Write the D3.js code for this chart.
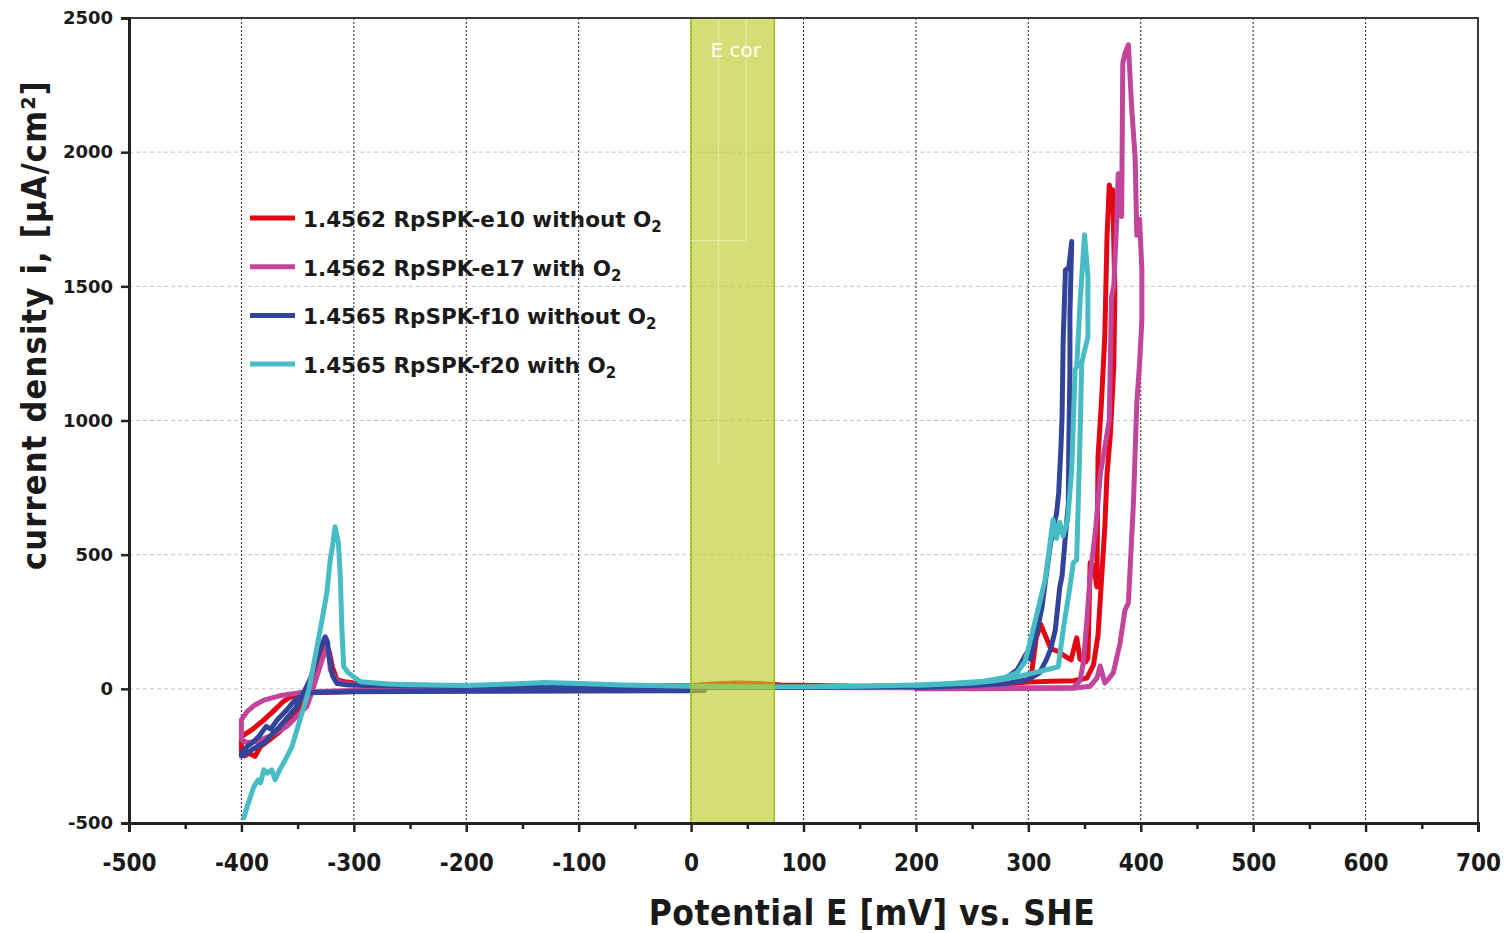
<!DOCTYPE html>
<html>
<head>
<meta charset="utf-8">
<script src="https://cdn.jsdelivr.net/npm/d3@7"></script>
<style>
  body { margin: 0; background: #fff; }
  svg { display: block; }
</style>
</head>
<body>
<svg id="chart" width="1511" height="933"></svg>
<script>
// axis ticks
const xTicks = [-500, -400, -300, -200, -100, 0, 100, 200, 300, 400, 500, 600, 700];
const xMinor = [-450, -350, -250, -150, -50, 50, 150, 250, 350, 450, 550, 650];
const yTicks = [-500, 0, 500, 1000, 1500, 2000, 2500];

// E cor band, mV
const ecorBand = [0, 74];

const seriesNames = ["1.4562 RpSPK-e10 without O", "1.4562 RpSPK-e17 with O",
                     "1.4565 RpSPK-f10 without O", "1.4565 RpSPK-f20 with O"];
const seriesColors = ["#e30613", "#c2449b", "#32449a", "#47bcc4"];

// [E mV, i uA/cm2]
const e10 = [[0,-3],[-100,-5],[-200,-7],[-300,-10],[-345,-15],[-356,-30],[-363,-48],[-372,-85],
  [-380,-116],[-390,-150],[-400,-178],[-400,-235],[-397,-250],[-393,-240],[-388,-252],[-383,-215],
  [-375,-190],[-366,-160],[-356,-115],[-347,-60],[-340,-5],[-334,60],[-329,130],[-325.6,171],
  [-322,140],[-319,80],[-315,34],[-308,26],[-300,22],[-250,14],[-200,10],[-100,10],[-50,10],[0,12],
  [20,18],[40,22],[60,20],[80,14],[150,10],[230,12],[270,18],[295,25],[302,30],[307,190],[311,240],
  [315,200],[320,150],[326,140],[334,118],[338,108],[343,190],[346,110],[351,100],[353,115],
  [355,470],[358,460],[361,380],[362,865],[365,1066],[368,1312],[370,1685],[372,1878],[374,1820],
  [375,1860],[377,1480],[376,1200],[373,950],[370,800],[368,600],[365,400],[362,200],[358,90],
  [352,40],[340,30],[320,28],[300,25],[270,15],[230,10]];

const e17 = [[0,-2],[-100,-3],[-200,-4],[-300,-6],[-342,-11],[-366,-26],[-380,-42],[-388,-60],
  [-395,-85],[-400,-116],[-400,-190],[-395,-200],[-385,-195],[-372,-170],[-360,-141],[-350,-100],
  [-342,-67],[-337,-10],[-333,45],[-328,110],[-325.6,138],[-324,157],[-322,120],[-321,71],
  [-316,35],[-312,22],[-300,16],[-200,8],[-100,6],[0,5],[100,5],[200,4],[300,4],[340,5],[346,30],
  [349,100],[352,250],[355,420],[360,600],[364,800],[368,900],[372,1000],[374,1460],[376,1500],
  [378.6,1740],[380,1920],[383,1760],[384,2330],[386,2370],[389,2400],[392,2160],[395,1980],
  [396.5,1690],[399,1750],[401,1560],[401,1375],[399,1215],[396.5,1066],[393.5,693],[389,320],
  [386,294],[381.6,171],[375.6,60],[372,40],[368,22],[364,85],[361,40],[355,10],[340,2],[250,0],
  [200,0]];

const f10 = [[12,-6],[0,-7],[-100,-8],[-200,-9],[-300,-11],[-342,-15],[-352,-40],[-360,-80],
  [-368,-115],[-374,-150],[-378,-140],[-384,-175],[-390,-200],[-395,-215],[-400,-240],[-400,-250],
  [-395,-240],[-390,-225],[-380,-201],[-366,-141],[-351,-67],[-339,34],[-333,110],[-329,160],
  [-325.5,194],[-323.5,175],[-322,120],[-319,50],[-315,20],[-305,14],[-290,12],[-200,8],[-100,5],
  [0,5],[100,5],[200,10],[250,15],[280,40],[290,70],[298,130],[302,110],[305,170],[308,220],
  [312,300],[315,395],[319,520],[322,600],[325,650],[327,730],[329,900],[330,1014],[331,1300],
  [333,1560],[336,1570],[338.6,1667],[337,1400],[337,1190],[336,900],[335.6,693],[332,520],
  [330,420],[328,380],[324,220],[320,150],[316,108],[310,60],[300,35],[280,20],[250,12],[200,5]];

const f20 = [[-398,-481],[-395,-440],[-389,-365],[-385,-339],[-383,-350],[-380,-302],[-377,-314],
  [-373,-302],[-370,-339],[-366,-302],[-361,-265],[-355,-215],[-348,-116],[-340,-4],[-334.5,119],
  [-329,240],[-324,358],[-321,481],[-319,530],[-316.7,604],[-313.7,544],[-312,417],[-310.7,231],
  [-309,82],[-305,60],[-294,26],[-270,18],[-250,15],[-200,12],[-160,18],[-130,24],[-100,20],
  [-60,14],[0,10],[50,8],[100,8],[150,10],[200,14],[230,20],[260,28],[278,41],[290,60],[297,101],
  [303,200],[310,320],[315,406],[318,500],[322,630],[325,560],[328,620],[331,570],[335,630],
  [338.6,816],[341.6,1189],[343,1200],[346,1438],[350,1692],[353,1536],[353,1312],[347.5,1215],
  [346,940],[343,481],[340,470],[337,380],[331,220],[326.6,82],[316,71],[300,55],[290,45],
  [270,30],[250,22],[200,12]];

const allSeries = [e10, e17, f10, f20];

// faint leftover frame lines inside the E cor band, [E, i] ends
const bandArtifacts = [[[24.5, 2500], [24.5, 840]], [[49, 2500], [49, 1670]], [[0, 1670], [49, 1670]]];

const svg = d3.select("#chart");
const plotLeft = 129, plotRight = 1478, plotTop = 18, plotBottom = 823;

const x = d3.scaleLinear().domain([-500, 700]).range([plotLeft, plotRight]);
const y = d3.scaleLinear().domain([-500, 2500]).range([plotBottom, plotTop]);

// horizontal grid
svg.append("g").selectAll("line")
  .data(yTicks.slice(1, -1))
  .enter().append("line")
  .attr("x1", plotLeft).attr("x2", plotRight)
  .attr("y1", d => y(d)).attr("y2", d => y(d))
  .attr("stroke", "#c4c4c4").attr("stroke-width", 1)
  .attr("stroke-dasharray", "4,3");

// vertical grid
svg.append("g").selectAll("line")
  .data(xTicks.slice(1, -1))
  .enter().append("line")
  .attr("x1", d => x(d)).attr("x2", d => x(d))
  .attr("y1", plotTop).attr("y2", plotBottom)
  .attr("stroke", "#222").attr("stroke-width", 1)
  .attr("stroke-dasharray", "2,2");

// curves
const line = d3.line().x(d => x(d[0])).y(d => y(d[1]));
svg.append("g").selectAll("path")
  .data(allSeries)
  .enter().append("path")
  .attr("d", line)
  .attr("fill", "none")
  .attr("stroke", (d, i) => seriesColors[i])
  .attr("stroke-width", 5)
  .attr("stroke-linejoin", "round")
  .attr("stroke-linecap", "round");

// E cor band over the curves
svg.append("rect")
  .attr("x", x(ecorBand[0])).attr("y", plotTop)
  .attr("width", x(ecorBand[1]) - x(ecorBand[0]))
  .attr("height", plotBottom - plotTop)
  .attr("fill", "#bfcc2a").attr("fill-opacity", 0.65)
  .attr("stroke", "#9cc31c").attr("stroke-width", 1.5);

svg.append("g").selectAll("path")
  .data(bandArtifacts)
  .enter().append("path")
  .attr("d", line)
  .attr("stroke", "#fff").attr("stroke-opacity", 0.45).attr("stroke-width", 1);

svg.append("text")
  .attr("x", (x(ecorBand[0]) + x(ecorBand[1])) / 2 + 3)
  .attr("y", 57)
  .attr("text-anchor", "middle")
  .attr("fill", "#fff")
  .style("font-family", "'DejaVu Sans', Verdana, sans-serif")
  .style("font-size", "20px")
  .text("E cor");

// frame
svg.append("rect")
  .attr("x", plotLeft).attr("y", plotTop)
  .attr("width", plotRight - plotLeft).attr("height", plotBottom - plotTop)
  .attr("fill", "none").attr("stroke", "#3a3a3a").attr("stroke-width", 2);

// axes
const xAxis = svg.append("g")
  .attr("transform", `translate(0,${plotBottom})`)
  .call(d3.axisBottom(x).tickValues(xTicks).tickSize(9).tickFormat(d3.format("d")));
svg.append("g")
  .attr("transform", `translate(0,${plotBottom})`)
  .call(d3.axisBottom(x).tickValues(xMinor).tickSize(6).tickFormat(""))
  .call(g => g.select(".domain").remove())
  .selectAll("line").attr("stroke", "#222").attr("stroke-width", 2.5);
xAxis.select(".domain").attr("stroke", "#222").attr("stroke-width", 3);
xAxis.selectAll(".tick line").attr("stroke", "#222").attr("stroke-width", 2.5);
xAxis.selectAll("text")
  .attr("dy", 0).attr("y", 48)
  .attr("fill", "#1a1a1a")
  .style("font-family", "'DejaVu Sans Condensed', 'DejaVu Sans', sans-serif")
  .style("font-weight", "bold")
  .style("font-size", "24px")
  .text(d => d3.format("d")(d).replace("−", "-"));

const yAxis = svg.append("g")
  .attr("transform", `translate(${plotLeft},0)`)
  .call(d3.axisLeft(y).tickValues(yTicks).tickSize(8).tickFormat(d3.format("d")));
yAxis.select(".domain").attr("stroke", "#222").attr("stroke-width", 3);
yAxis.selectAll(".tick line").attr("stroke", "#222").attr("stroke-width", 2.5);
yAxis.selectAll("text")
  .attr("x", -16)
  .attr("fill", "#1a1a1a")
  .style("font-family", "'DejaVu Sans', Verdana, sans-serif")
  .style("font-weight", "bold")
  .style("font-size", "18px")
  .text(d => d3.format("d")(d).replace("−", "-"));

// axis titles
svg.append("text")
  .attr("x", 872).attr("y", 925)
  .attr("text-anchor", "middle")
  .attr("fill", "#1a1a1a")
  .style("font-family", "'DejaVu Sans Condensed', 'DejaVu Sans', sans-serif")
  .style("font-weight", "bold")
  .style("font-size", "35px")
  .style("letter-spacing", "0.5px")
  .text("Potential E [mV] vs. SHE");

svg.append("text")
  .attr("transform", "translate(46,325) rotate(-90)")
  .attr("text-anchor", "middle")
  .attr("fill", "#1a1a1a")
  .style("font-family", "'DejaVu Sans Condensed', 'DejaVu Sans', sans-serif")
  .style("font-weight", "bold")
  .style("font-size", "34px")
  .style("letter-spacing", "1.2px")
  .text("current density i, [µA/cm²]");

// legend
const legend = svg.append("g").selectAll("g")
  .data(seriesNames)
  .enter().append("g")
  .attr("transform", (d, i) => `translate(250,${218 + i * 48.7})`);
legend.append("line")
  .attr("x1", 0).attr("x2", 45)
  .attr("stroke", (d, i) => seriesColors[i])
  .attr("stroke-width", 5);
const lt = legend.append("text")
  .attr("x", 53).attr("y", 9)
  .attr("fill", "#1a1a1a")
  .style("font-family", "'DejaVu Sans', Verdana, sans-serif")
  .style("font-weight", "bold")
  .style("font-size", "21.5px");
lt.append("tspan").text(d => d);
lt.append("tspan").attr("dy", 5).style("font-size", "15px").text("2");
</script>
</body>
</html>
